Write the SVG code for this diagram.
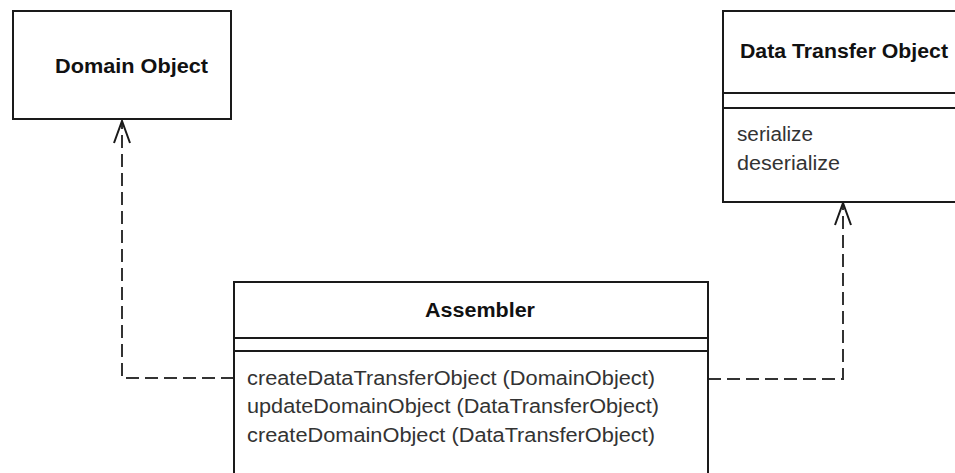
<svg xmlns="http://www.w3.org/2000/svg" width="955" height="473" viewBox="0 0 955 473">
  <style>
    .box { fill: #ffffff; stroke: #1a1a1a; stroke-width: 2; }
    .sep { stroke: #1a1a1a; stroke-width: 2; fill: none; }
    .title { font-family: "Liberation Sans", Arial, sans-serif; font-weight: bold; font-size: 20px; fill: #111; }
    .op { font-family: "Liberation Sans", Arial, sans-serif; font-size: 20px; fill: #333; }
    .dep { fill: none; stroke: #333; stroke-width: 2; stroke-dasharray: 13 6; }
  </style>
  <defs>
    <marker id="open" viewBox="-24 -10 26 20" refX="0" refY="0" markerWidth="26" markerHeight="20" markerUnits="userSpaceOnUse" orient="auto">
      <path d="M-22,-8 L0,0 L-22,8" fill="none" stroke="#1a1a1a" stroke-width="2" stroke-dasharray="none"/>
    </marker>
  </defs>
  <rect width="955" height="473" fill="#ffffff"/>

  <g id="connectors">
    <path class="dep" d="M234,378 H122 V121" marker-end="url(#open)"/>
    <path class="dep" d="M708,379 H843 V203" marker-end="url(#open)"/>
  </g>

  <g id="domain-object">
    <rect class="box" x="13" y="11" width="218" height="108"/>
    <text class="title" x="55" y="73" textLength="153" lengthAdjust="spacingAndGlyphs">Domain Object</text>
  </g>

  <g id="data-transfer-object">
    <rect class="box" x="723" y="11" width="260" height="191"/>
    <line class="sep" x1="723" y1="93" x2="955" y2="93"/>
    <line class="sep" x1="723" y1="108" x2="955" y2="108"/>
    <text class="title" x="740" y="58" textLength="208" lengthAdjust="spacingAndGlyphs">Data Transfer Object</text>
    <text class="op" x="737" y="141" textLength="76" lengthAdjust="spacingAndGlyphs">serialize</text>
    <text class="op" x="737" y="170" textLength="103" lengthAdjust="spacingAndGlyphs">deserialize</text>
  </g>

  <g id="assembler">
    <rect class="box" x="234" y="282" width="474" height="220"/>
    <line class="sep" x1="234" y1="338" x2="708" y2="338"/>
    <line class="sep" x1="234" y1="351" x2="708" y2="351"/>
    <text class="title" x="425" y="317" textLength="110" lengthAdjust="spacingAndGlyphs">Assembler</text>
    <text class="op" x="247" y="385" textLength="408" lengthAdjust="spacingAndGlyphs">createDataTransferObject (DomainObject)</text>
    <text class="op" x="247" y="413" textLength="412" lengthAdjust="spacingAndGlyphs">updateDomainObject (DataTransferObject)</text>
    <text class="op" x="247" y="442" textLength="408" lengthAdjust="spacingAndGlyphs">createDomainObject (DataTransferObject)</text>
  </g>
</svg>
